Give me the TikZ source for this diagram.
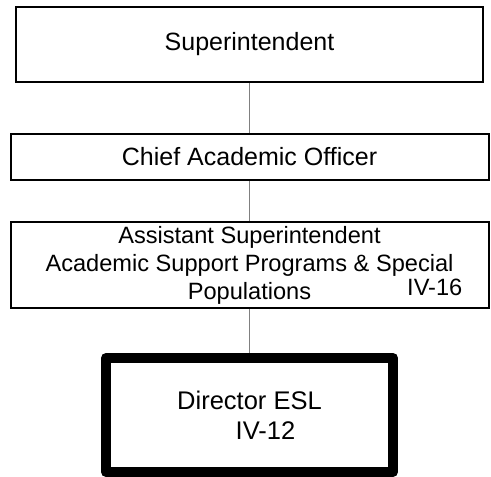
\documentclass[tikz,border=0pt]{standalone}
\usepackage{fontspec}
\setmainfont{Liberation Sans}
\usepackage{tikz}
\usetikzlibrary{positioning,calc}
\definecolor{linkgray}{HTML}{808080}

\begin{document}
\begin{tikzpicture}[
  office/.style={draw, line width=2pt, align=center, inner sep=0pt, font=\fontsize{25}{28}\selectfont},
  director/.style={draw, line width=10pt, line join=round, align=center, inner sep=0pt, font=\fontsize{25.5}{30}\selectfont},
  link/.style={draw=linkgray, line width=1.3pt}
]
  \useasboundingbox (0,0) rectangle (491pt,-477pt);
  \node[office, minimum width=467pt, minimum height=75pt] (sup) at (249.5pt,-44.5pt) {Superintendent};
  \node[office, minimum width=478pt, minimum height=46pt, below=50pt of sup] (cao) {Chief Academic Officer};
  \node[office, minimum width=478pt, minimum height=86pt, below=40pt of cao, font=\fontsize{23.6}{28}\selectfont] (asp) {Assistant Superintendent\\ Academic Support Programs \& Special\\ Populations};
  \node[anchor=base east, inner sep=0pt, font=\fontsize{23.6}{28}\selectfont] (aspcode) at ($(asp.south east)+(-27pt,14pt)$) {IV-16};
  \node[director, minimum width=287pt, minimum height=114pt, below=44pt of asp] (esl) {Director ESL\\ \hspace*{32pt}IV-12};
  \draw[link] (sup) -- (cao);
  \draw[link] (cao) -- (asp);
  \draw[link] (asp) -- (esl);
\end{tikzpicture}
\end{document}
